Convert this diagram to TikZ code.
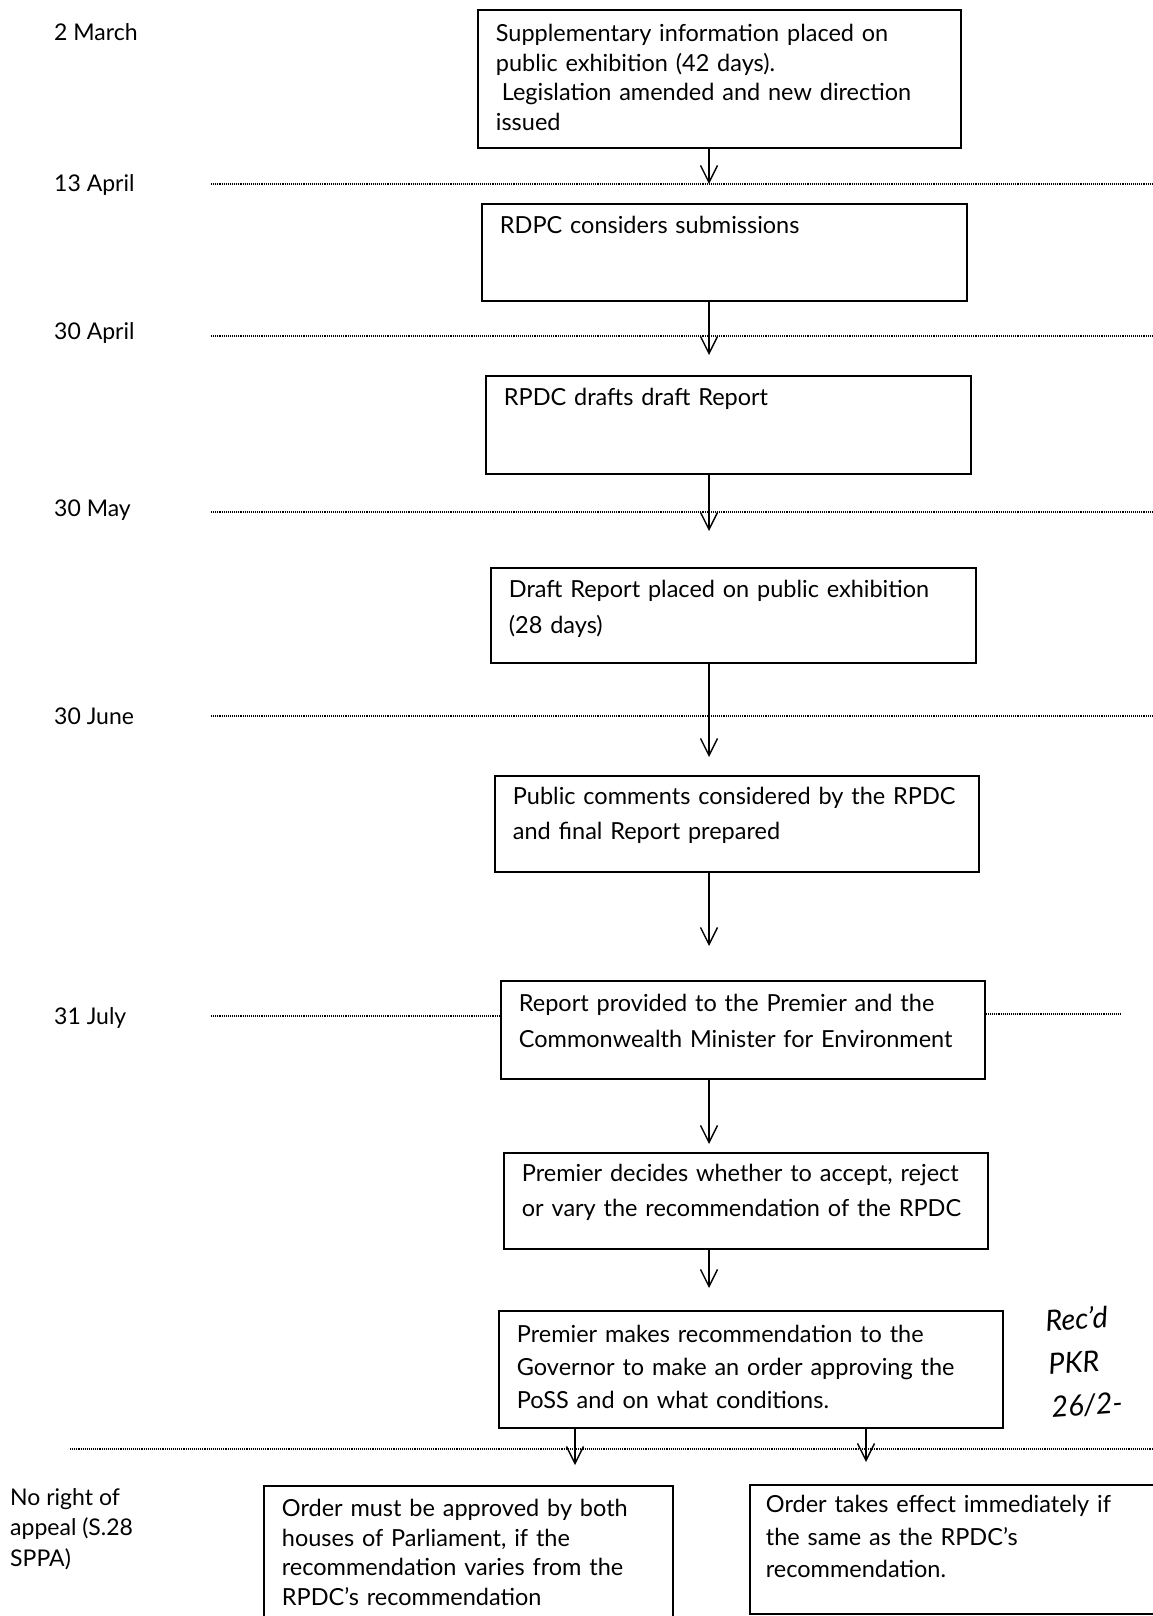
\documentclass[tikz,border=0pt]{standalone}
\usepackage{fontspec}
\setmainfont{Lato}
\usetikzlibrary{arrows.meta}

\begin{document}
\begin{tikzpicture}[x=1pt,y=-1pt]
\tikzstyle{every node}=[font=\fontsize{23.5}{29.5}\selectfont, inner sep=0pt];
\tikzstyle{stage}=[draw, line width=1.8pt, anchor=north west, inner xsep=18pt, inner ysep=0pt, align=left, text height=30pt];
\tikzstyle{date}=[anchor=base west, font=\fontsize{23}{30.5}\selectfont];
\tikzstyle{flow}=[line width=1.4pt, -{Straight Barb[length=17pt,width=17pt]}];
\tikzstyle{dateline}=[line width=1.1pt, densely dotted];

\useasboundingbox (0,0) rectangle (1153,1616);

\coordinate (spine) at (709,0);
\coordinate (leftsplit) at (575,0);
\coordinate (rightsplit) at (866,0);

\draw (54,41) node[date] (d1) {2 March};
\draw (54,192) node[date] (d2) {13 April};
\draw (54,339) node[date] (d3) {30 April};
\draw (54,516) node[date] (d4) {30 May};
\draw (54,724) node[date] (d5) {30 June};
\draw (54,1024) node[date] (d6) {31 July};
\draw (10,1566) node[date, align=left] (appeal) {No right of\\appeal (S.28\\SPPA)};

\draw (477,9) node[stage, text width=447pt, text height=32pt, text depth=106pt] (s1)
  {Supplementary information placed on\\public exhibition (42 days).\\\hspace*{0.25em}Legislation amended and new direction\\issued};
\draw (481,203) node[stage, text width=449pt, text depth=67pt] (s2) {RDPC considers submissions};
\draw (485,375) node[stage, text width=449pt, text depth=68pt] (s3) {RPDC drafts draft Report};
\draw (490,567) node[stage, text width=449pt, text depth=65pt, font=\fontsize{23.5}{36}\selectfont] (s4)
  {Draft Report placed on public exhibition\\(28 days)};
\draw (494,775) node[stage, text width=448pt, text height=29pt, text depth=67pt, font=\fontsize{23.5}{35}\selectfont] (s5)
  {Public comments considered by the RPDC\\and final Report prepared};
\draw (500,980) node[stage, text width=448pt, text height=31pt, text depth=67pt, font=\fontsize{23.5}{36}\selectfont] (s6)
  {Report provided to the Premier and the\\Commonwealth Minister for Environment};
\draw (503,1152) node[stage, text width=448pt, text height=29pt, text depth=67pt, font=\fontsize{23.5}{35}\selectfont] (s7)
  {Premier decides whether to accept, reject\\or vary the recommendation of the RPDC};
\draw (498,1310) node[stage, text width=468pt, text height=32pt, text depth=85pt, font=\fontsize{23.5}{33}\selectfont] (s8)
  {Premier makes recommendation to the\\Governor to make an order approving the\\PoSS and on what conditions.};
\draw (263,1485) node[stage, text width=373pt, text height=31pt, text depth=130pt] (s9)
  {Order must be approved by both\\houses of Parliament, if the\\recommendation varies from the\\RPDC’s recommendation};
\draw (749,1484) node[stage, inner xsep=16pt, text width=420pt, text height=28pt, text depth=101pt, font=\fontsize{23.5}{32.5}\selectfont] (s10)
  {Order takes effect immediately if\\the same as the RPDC’s\\recommendation.};

\draw (1084,1362) node[rotate=4, align=left, font=\fontsize{29}{43}\itshape] (recd) {Rec’d\\PKR\\26/2-};

\draw[dateline] (211,184) -- (1153,184);
\draw[dateline] (211,336) -- (1153,336);
\draw[dateline] (211,512) -- (1153,512);
\draw[dateline] (211,716) -- (1153,716);
\draw[dateline] (211,1016) -- (s6.west |- 0,1016);
\draw[dateline] (s6.east |- 0,1014) -- (1121,1014);
\draw[dateline] (70,1449) -- (1153,1449);

\draw[flow, shorten >=19pt] (s1.south -| spine) -- (s2.north -| spine);
\draw[flow, shorten >=20pt] (s2.south -| spine) -- (s3.north -| spine);
\draw[flow, shorten >=36pt] (s3.south -| spine) -- (s4.north -| spine);
\draw[flow, shorten >=18pt] (s4.south -| spine) -- (s5.north -| spine);
\draw[flow, shorten >=34pt] (s5.south -| spine) -- (s6.north -| spine);
\draw[flow, shorten >=8pt] (s6.south -| spine) -- (s7.north -| spine);
\draw[flow, shorten >=22pt] (s7.south -| spine) -- (s8.north -| spine);
\draw[flow, shorten >=20pt] (s8.south -| leftsplit) -- (s9.north -| leftsplit);
\draw[flow, shorten >=22pt] (s8.south -| rightsplit) -- (s10.north -| rightsplit);

\end{tikzpicture}
\end{document}
